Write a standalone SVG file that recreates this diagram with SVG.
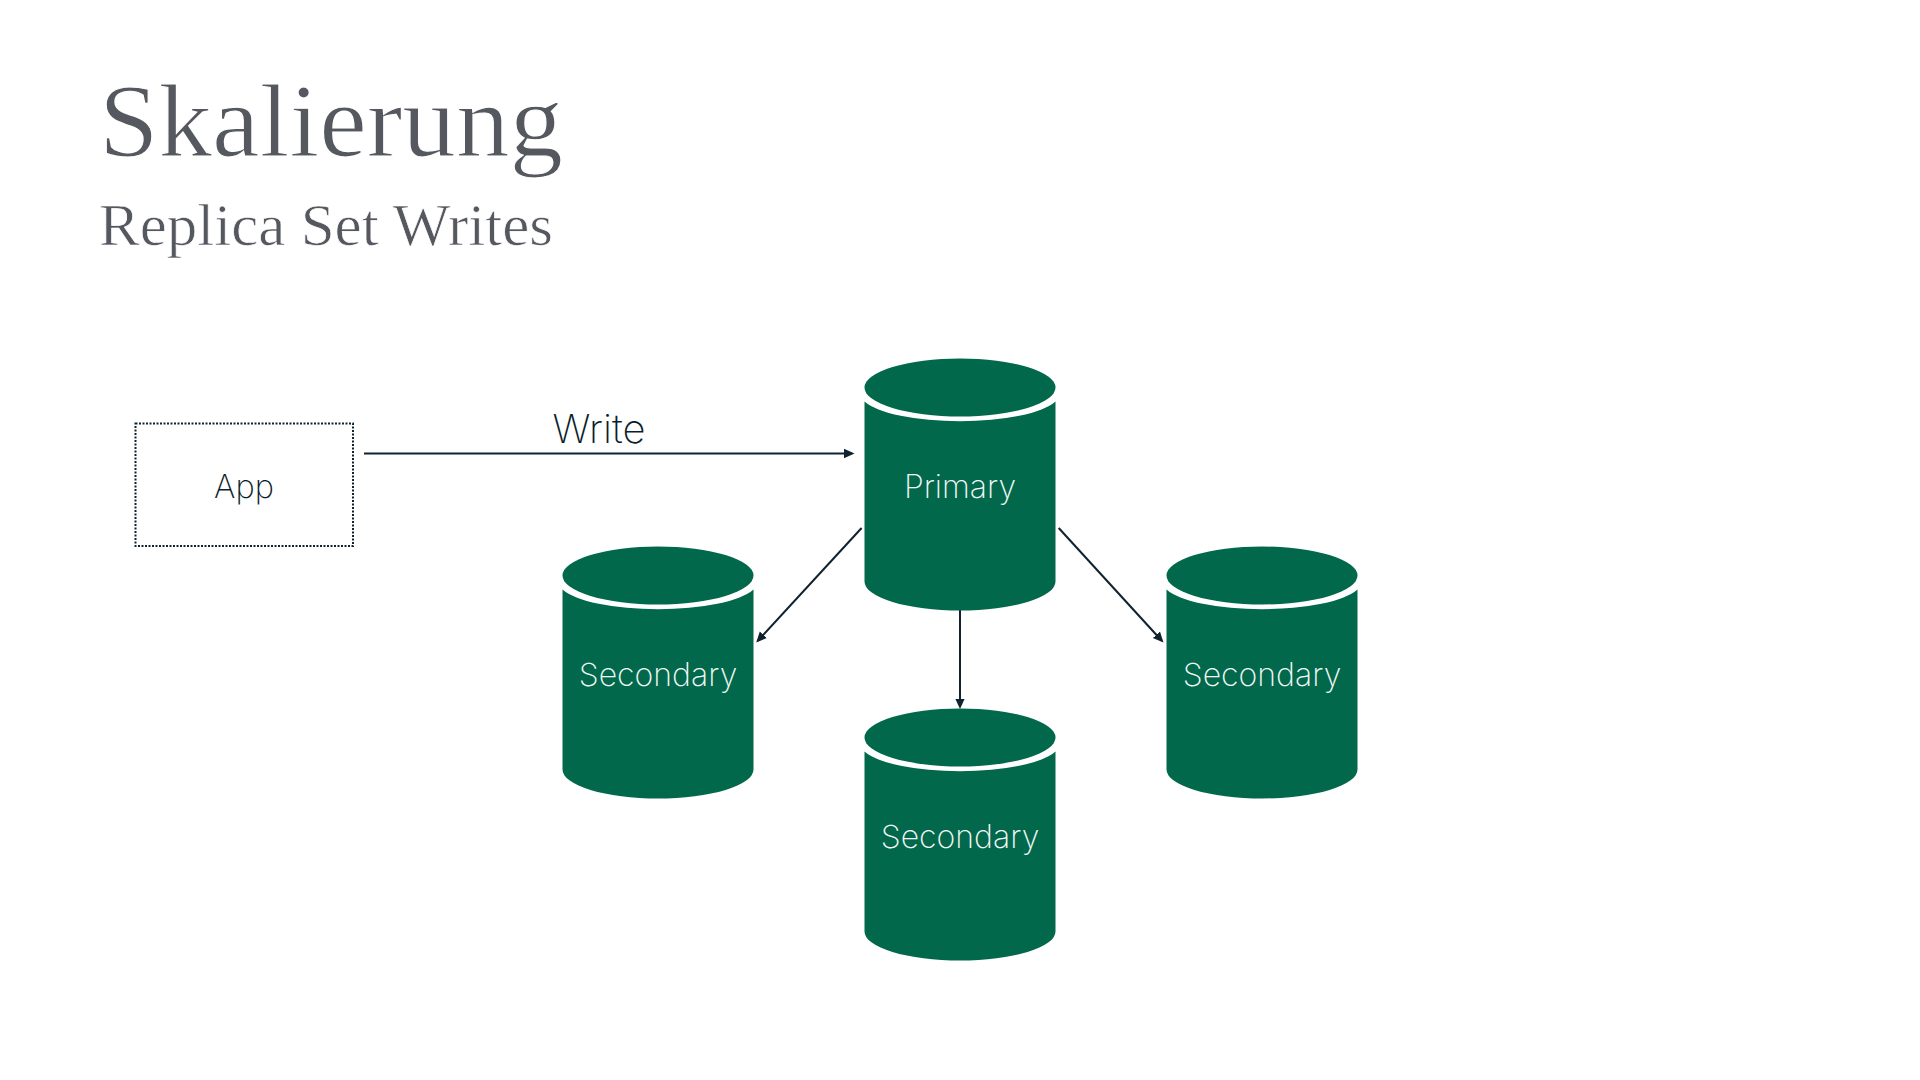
<svg xmlns="http://www.w3.org/2000/svg" width="1920" height="1080" viewBox="0 0 1920 1080">
<style>
.title{font-family:"Liberation Serif",serif;fill:#55595f;stroke:#fff}
.label{font-family:"Inter","Liberation Sans",sans-serif;font-weight:200;text-anchor:middle}
.dark{fill:#0b1e2b}
.light{fill:#f2f8f5}
.cyl{fill:#02684c}
.conn{stroke:#10222f;stroke-width:2;fill:none;marker-end:url(#arrow)}
</style>
<defs>
<marker id="arrow" markerUnits="userSpaceOnUse" markerWidth="12" markerHeight="12" refX="8" refY="6" orient="auto"><path d="M0 1.2L10.5 6L0 10.8Z" fill="#10222f"/></marker>
<g id="cylinder">
<ellipse class="cyl" cx="0" cy="29" rx="95.5" ry="29"/>
<path class="cyl" d="M-95.5 43V223A95.5 29 0 0 0 95.5 223V43A100 28 0 0 1 -95.5 43Z"/>
</g>
</defs>
<rect width="1920" height="1080" fill="#fff"/>
<text class="title" x="99" y="156" font-size="104" stroke-width="1.2" textLength="464" lengthAdjust="spacingAndGlyphs">Skalierung</text>
<text class="title" x="99" y="245" font-size="60" stroke-width="0.7" textLength="454" lengthAdjust="spacingAndGlyphs">Replica Set Writes</text>
<g id="connectors">
<line class="conn" x1="364" y1="453.5" x2="852" y2="453.5"/>
<line class="conn" x1="861.6" y1="528" x2="757.9" y2="640.7"/>
<line class="conn" x1="960" y1="610" x2="960" y2="706.5"/>
<line class="conn" x1="1058.7" y1="528" x2="1161.8" y2="640.7"/>
<text class="label dark" x="599" y="443" font-size="40">Write</text>
</g>
<g id="app">
<rect x="135.5" y="423.5" width="217.5" height="122.5" fill="none" stroke="#10222f" stroke-width="2" stroke-dasharray="2 1.5"/>
<text class="label dark" x="244" y="498" font-size="32.5">App</text>
</g>
<g id="primary">
<use href="#cylinder" x="960" y="358.5"/>
<text class="label light" x="960" y="498" font-size="32">Primary</text>
</g>
<g id="secondary-left">
<use href="#cylinder" x="658" y="546.5"/>
<text class="label light" x="658" y="685.5" font-size="32">Secondary</text>
</g>
<g id="secondary-bottom">
<use href="#cylinder" x="960" y="708.5"/>
<text class="label light" x="960" y="847.5" font-size="32">Secondary</text>
</g>
<g id="secondary-right">
<use href="#cylinder" x="1262" y="546.5"/>
<text class="label light" x="1262" y="685.5" font-size="32">Secondary</text>
</g>
</svg>
